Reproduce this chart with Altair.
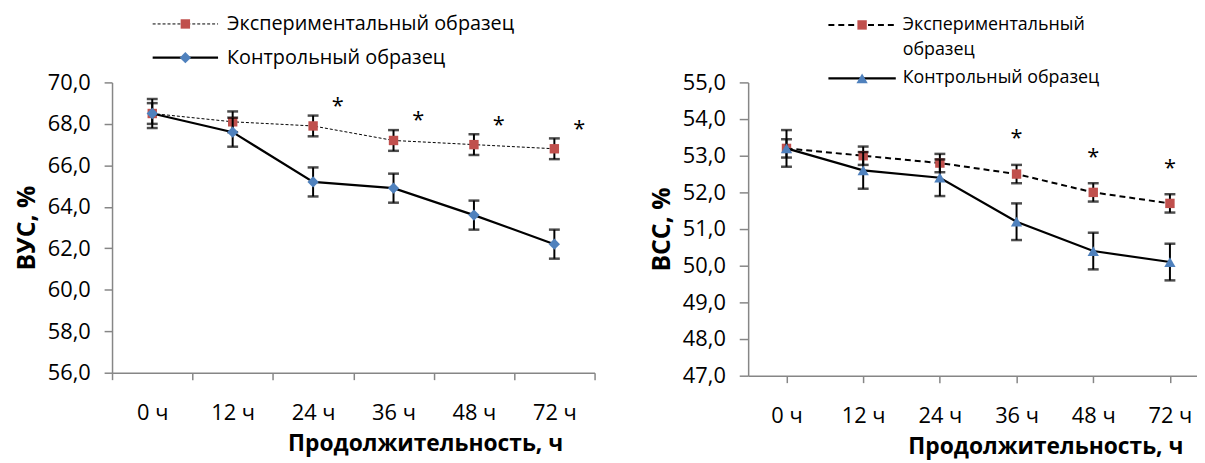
import json
import altair as alt
import pandas as pd

# ---------------- data ----------------
categories = ["0 ч", "12 ч", "24 ч", "36 ч", "48 ч", "72 ч"]

# Left panel: ВУС, %
vus_exp = [68.5, 68.1, 67.9, 67.2, 67.0, 66.8]
vus_exp_err = [0.5, 0.5, 0.5, 0.5, 0.5, 0.5]
vus_ctrl = [68.5, 67.6, 65.2, 64.9, 63.6, 62.2]
vus_ctrl_err = [0.7, 0.7, 0.7, 0.7, 0.7, 0.7]
vus_star = [None, None, 69.1, 68.4, 68.2, 68.0]
vus_ticks = [56, 58, 60, 62, 64, 66, 68, 70]

# Right panel: ВСС, %
vss_exp = [53.2, 53.0, 52.8, 52.5, 52.0, 51.7]
vss_exp_err = [0.25, 0.25, 0.25, 0.25, 0.25, 0.25]
vss_ctrl = [53.2, 52.6, 52.4, 51.2, 50.4, 50.1]
vss_ctrl_err = [0.5, 0.5, 0.5, 0.5, 0.5, 0.5]
vss_star = [None, None, None, 53.5, 53.0, 52.7]
vss_ticks = [47, 48, 49, 50, 51, 52, 53, 54, 55]

legend_exp = "Экспериментальный образец"
legend_exp_lines = ["Экспериментальный", "образец"]
legend_ctrl = "Контрольный образец"
x_title = "Продолжительность, ч"
y_title_left = "ВУС, %"
y_title_right = "ВСС, %"

RED = "#C0504D"
BLUE = "#4F81BD"
FONT = "Open Sans"


def frame(vals, errs):
    return pd.DataFrame({
        "cat": categories,
        "idx": list(range(len(categories))),
        "val": vals,
        "lo": [v - e for v, e in zip(vals, errs)],
        "hi": [v + e for v, e in zip(vals, errs)],
    })


def star_frame(stars):
    rows = [(c, i, s) for i, (c, s) in enumerate(zip(categories, stars)) if s is not None]
    return pd.DataFrame(rows, columns=["cat", "idx", "star"])


comma_expr = "replace(format(datum.value, '.1f'), '.', ',')"


def series_layers(df, x, yscale, yaxis, line_kw, shape, color, size):
    y = alt.Y("val:Q", scale=yscale, axis=yaxis)
    line = alt.Chart(df).mark_line(color="black", **line_kw).encode(x=x, y=y)
    bar = alt.Chart(df).mark_rule(color="black", strokeWidth=2).encode(
        x=x, y=alt.Y("lo:Q", scale=yscale, axis=yaxis), y2="hi:Q")
    cap_lo = alt.Chart(df).mark_tick(color="black", orient="horizontal", size=11, thickness=2.5).encode(
        x=x, y=alt.Y("lo:Q", scale=yscale, axis=yaxis))
    cap_hi = alt.Chart(df).mark_tick(color="black", orient="horizontal", size=11, thickness=2.5).encode(
        x=x, y=alt.Y("hi:Q", scale=yscale, axis=yaxis))
    pts = alt.Chart(df).mark_point(shape=shape, filled=True, opacity=1, size=size, color=color).encode(x=x, y=y)
    return [line, bar, cap_lo, cap_hi, pts]


def legend_entry(label_lines, y0, x_line0, x_line1, x_text, line_kw, shape, color, size, fsize, lh):
    d = pd.DataFrame({"t": [label_lines[0]]})
    layers = [
        alt.Chart(d).mark_rule(color="black", **line_kw).encode(
            x=alt.value(x_line0), x2=alt.value(x_line1), y=alt.value(y0)),
        alt.Chart(d).mark_point(shape=shape, filled=True, opacity=1, size=size, color=color).encode(
            x=alt.value((x_line0 + x_line1) / 2), y=alt.value(y0)),
    ]
    for k, line in enumerate(label_lines):
        dd = pd.DataFrame({"t": [line]})
        layers.append(alt.Chart(dd).mark_text(
            align="left", baseline="middle", fontSize=fsize, font=FONT, color="black").encode(
            x=alt.value(x_text), y=alt.value(y0 + k * lh), text="t:N"))
    return layers


# ---------------- left panel ----------------
L_W, L_H = 487, 293
lx = alt.X("cat:N", sort=categories,
           scale=alt.Scale(type="band", paddingInner=0, paddingOuter=0),
           axis=alt.Axis(title=x_title, tickBand="extent", labelAngle=0, tickSize=7,
                         labelPadding=23, titleX=316, titleY=72, titleBaseline="middle",
                         titleAlign="center", titleFontSize=23))
lys = alt.Scale(domain=[56, 70], nice=False, zero=False)
lya = alt.Axis(title=y_title_left, values=vus_ticks, labelExpr=comma_expr, tickSize=8,
               labelPadding=14, titlePadding=8, titleFontSize=25)

left_layers = []
left_layers += series_layers(frame(vus_exp, vus_exp_err), lx, lys, lya,
                             dict(strokeWidth=1, strokeDash=[3, 2]), "square", RED, 90)
left_layers += series_layers(frame(vus_ctrl, vus_ctrl_err), lx, lys, lya,
                             dict(strokeWidth=2.2), "diamond", BLUE, 130)
left_layers.append(alt.Chart(star_frame(vus_star)).mark_text(
    text="*", fontSize=22, font=FONT, dx=25, dy=5, color="black").encode(
    x=lx, y=alt.Y("star:Q", scale=lys, axis=lya)))
left_layers += legend_entry([legend_exp], -59, 41, 107, 116,
                            dict(strokeWidth=1, strokeDash=[3, 2]), "square", RED, 90, 20, 25)
left_layers += legend_entry([legend_ctrl], -25, 41, 107, 116,
                            dict(strokeWidth=2.2), "diamond", BLUE, 130, 20, 25)
left = alt.layer(*left_layers).properties(width=L_W, height=L_H)

# ---------------- right panel ----------------
R_W, R_H = 453, 296
label_array = json.dumps(categories, ensure_ascii=False)
rx = alt.X("idx:Q",
           scale=alt.Scale(domain=[-0.5, 5.353], nice=False, zero=False),
           axis=alt.Axis(title=x_title, values=list(range(len(categories))),
                         labelExpr=f"{label_array}[datum.value]", tickSize=7,
                         labelPadding=23, titleX=300, titleY=72, titleBaseline="middle",
                         titleAlign="center", labelFlush=False, labelOverlap=False,
                         titleFontSize=23))
rys = alt.Scale(domain=[47, 55], nice=False, zero=False)
rya = alt.Axis(title=y_title_right, values=vss_ticks, labelExpr=comma_expr, tickSize=9,
               labelPadding=14, titlePadding=8, titleFontSize=25)

right_layers = []
right_layers += series_layers(frame(vss_exp, vss_exp_err), rx, rys, rya,
                              dict(strokeWidth=2, strokeDash=[6, 4]), "square", RED, 90)
right_layers += series_layers(frame(vss_ctrl, vss_ctrl_err), rx, rys, rya,
                              dict(strokeWidth=2.2), "triangle-up", BLUE, 130)
right_layers.append(alt.Chart(star_frame(vss_star)).mark_text(
    text="*", fontSize=22, font=FONT, dy=1, color="black").encode(
    x=rx, y=alt.Y("star:Q", scale=rys, axis=rya)))
right_layers += legend_entry(legend_exp_lines, -58, 81, 149, 156,
                             dict(strokeWidth=2, strokeDash=[6, 4]), "square", RED, 90, 18, 25)
right_layers += legend_entry([legend_ctrl], -4, 81, 149, 156,
                             dict(strokeWidth=2.2), "triangle-up", BLUE, 130, 18, 25)
right = alt.layer(*right_layers).properties(width=R_W, height=R_H)

chart = alt.hconcat(left, right, spacing=54).properties(
    padding={"left": 6, "top": 4, "right": 0, "bottom": 0}
).configure_view(stroke=None).configure_axis(
    domainColor="#868686", tickColor="#868686", domainWidth=1.5, tickWidth=1.5,
    labelFont=FONT, labelFontSize=22, labelColor="black",
    titleFont=FONT, titleFontSize=22, titleFontWeight="bold", titleColor="black",
    grid=False,
)

chart.save("out.html", embed_options={"renderer": "svg", "actions": False})
